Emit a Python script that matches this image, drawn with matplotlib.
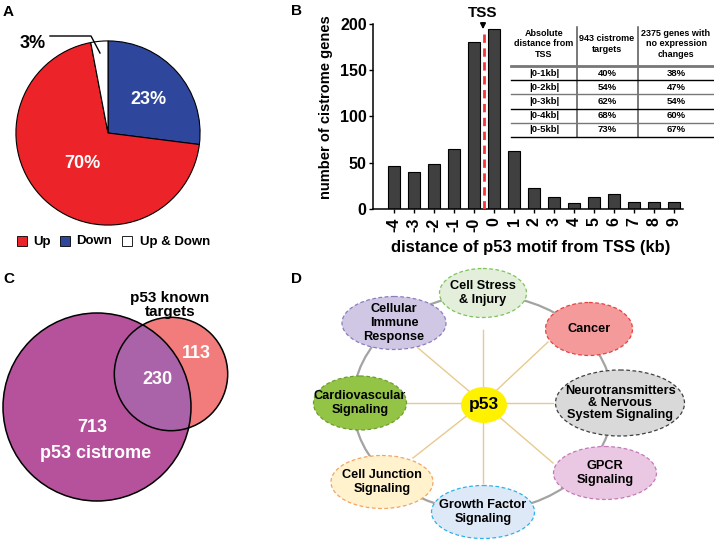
import matplotlib
matplotlib.use('Agg')
import matplotlib.pyplot as plt
from matplotlib.patches import Circle, Ellipse, Rectangle
import numpy as np

plt.rcParams['font.family'] = ['Liberation Sans', 'DejaVu Sans']
plt.rcParams['font.weight'] = 'bold'
plt.rcParams['axes.labelweight'] = 'bold'

# --- A: response direction of cistrome genes
pie_groups = ['Down', 'Up', 'Up & Down']
pie_sizes = [27, 70, 3]
pie_labels = ['23%', '70%', '3%']
pie_colors = ['#2E479C', '#EC2328', '#FFFFFF']

# --- B: distance of p53 motif from TSS
dist_labels = ['-4', '-3', '-2', '-1', '-0', '0', '1', '2', '3', '4', '5', '6', '7', '8', '9']
cistrome_counts = [46, 40, 48, 65, 180, 194, 63, 23, 13, 6, 13, 16, 8, 8, 8]
table_header = ['Absolute\ndistance from\nTSS', '943 cistrome\ntargets',
                '2375 genes with\nno expression\nchanges']
table_ranges = ['|0-1kb|', '|0-2kb|', '|0-3kb|', '|0-4kb|', '|0-5kb|']
table_cistrome = ['40%', '54%', '62%', '68%', '73%']
table_noexpr = ['38%', '47%', '54%', '60%', '67%']

# --- C: overlap with known targets
venn_only_cistrome = 713
venn_overlap = 230
venn_only_known = 113

# --- D: pathways (label, centre px, width, height, face, edge)
pathways = [
    ('Cell Stress\n& Injury', (483, 293), 87, 49, '#E3EFDA', '#7DC35B'),
    ('Cancer', (589, 329), 87, 53, '#F49A9B', '#E8413F'),
    ('Neurotransmitters\n& Nervous\nSystem Signaling', (620, 403), 129, 66, '#D9D9D9', '#404040'),
    ('GPCR\nSignaling', (605, 473), 103, 53, '#EAC7E2', '#C679B9'),
    ('Growth Factor\nSignaling', (483, 512), 103, 53, '#DDE9F6', '#2DB3E7'),
    ('Cell Junction\nSignaling', (382, 482), 102, 53, '#FFF2CD', '#F4A45F'),
    ('Cardiovascular\nSignaling', (360, 403), 93, 54, '#93C445', '#6E9E30'),
    ('Cellular\nImmune\nResponse', (394, 323), 104, 53, '#CFC7E4', '#8C7DC0'),
]
spoke_ends = [(483, 330), (548, 342), (553, 403), (553, 463),
              (483, 483), (413, 458), (407, 403), (418, 348)]

W, H = 714, 542
fig = plt.figure(figsize=(W / 100, H / 100), dpi=100)

# pie
axA = fig.add_axes([15 / W, 1 - 226 / H, 186 / W, 186 / H])
axA.pie(pie_sizes, colors=pie_colors, startangle=90, counterclock=False,
        wedgeprops=dict(edgecolor='black', linewidth=0.8))
axA.set_xlim(-1.01, 1.01)
axA.set_ylim(-1.01, 1.01)

# histogram
axB = fig.add_axes([373 / W, 1 - 209 / H, 310 / W, 185.5 / H])
x = np.arange(len(dist_labels))
axB.bar(x, cistrome_counts, width=0.63, color='#404040', edgecolor='black', linewidth=0.8)
axB.plot([4.5, 4.5], [0, 191], color='#F5333A', lw=2, ls=(0, (3, 2)), zorder=3)
axB.set_xlim(-1.05, 14.45)
axB.set_ylim(0, 200)
axB.set_yticks([0, 50, 100, 150, 200])
axB.set_xticks(x)
axB.set_xticklabels(dist_labels, rotation=90, fontsize=11.5)
axB.tick_params(axis='y', labelsize=11.5, length=3, width=1, pad=1.5)
axB.tick_params(axis='x', length=3, width=1, pad=3)
for lbl in axB.get_xticklabels() + axB.get_yticklabels():
    lbl.set_fontweight('bold')
for s in ['top', 'right']:
    axB.spines[s].set_visible(False)
for s in ['left', 'bottom']:
    axB.spines[s].set_linewidth(1.1)
axB.set_ylabel('number of cistrome genes', fontsize=10.5)
axB.yaxis.set_label_coords(-0.128, 0.55)
axB.set_xlabel('distance of p53 motif from TSS (kb)', fontsize=12)
axB.xaxis.set_label_coords(0.51, -0.165)

# overlay in pixel coordinates for annotations, venn and network
ov = fig.add_axes([0, 0, 1, 1])
ov.set_xlim(0, W)
ov.set_ylim(H, 0)
ov.axis('off')
ov.patch.set_visible(False)

for lab, px, py in [('A', 8, 12), ('B', 297, 11), ('C', 9, 279), ('D', 296, 279)]:
    ov.text(px, py, lab, fontsize=11, ha='center', va='center')

# A labels and legend
ov.text(148, 100, pie_labels[0], color='white', fontsize=13, ha='center', va='center')
ov.text(82, 163, pie_labels[1], color='white', fontsize=13, ha='center', va='center')
ov.text(33, 43, pie_labels[2], color='black', fontsize=13, ha='center', va='center')
ov.plot([50, 91, 100], [36, 36, 53], color='black', lw=1)
leg_x = [(17, 33), (60, 76), (122, 140)]
leg_order = [1, 0, 2]
for (sx, tx), i in zip(leg_x, leg_order):
    ov.add_patch(Rectangle((sx, 236), 10, 10, fc=pie_colors[i], ec='black', lw=0.6))
    ov.text(tx, 241.5, pie_groups[i], fontsize=9.5, ha='left', va='center')

# B annotations: TSS arrow and table
ov.text(483, 13, 'TSS', fontsize=11, ha='center', va='center')
ov.annotate('', xy=(483, 32), xytext=(483, 20),
            arrowprops=dict(arrowstyle='-|>', color='black', lw=1.2, mutation_scale=8))
col_x = [544, 607, 676]
for cx, head in zip(col_x, table_header):
    ov.text(cx, 44, head, fontsize=6.5, ha='center', va='center', linespacing=1.2)
for xv in [577, 638]:
    ov.plot([xv, xv], [27, 137], color='#555555', lw=1.1)
ov.plot([511, 713], [66, 66], color='#777777', lw=2)
row_h = 14.2
for k in range(len(table_ranges)):
    yc = 66 + row_h * (k + 0.5)
    ov.text(col_x[0], yc, table_ranges[k], fontsize=6.8, ha='center', va='center')
    ov.text(col_x[1], yc, table_cistrome[k], fontsize=6.8, ha='center', va='center')
    ov.text(col_x[2], yc, table_noexpr[k], fontsize=6.8, ha='center', va='center')
    yl = 66 + row_h * (k + 1)
    ov.plot([511, 713], [yl, yl], color='black' if k % 2 == 0 else '#777777', lw=1)

# C: venn
big_r = 94
small_r = big_r * np.sqrt((venn_overlap + venn_only_known) / (venn_only_cistrome + venn_overlap))
big = Circle((97, 407), big_r, fc='#B5529B', ec='none')
ov.add_patch(big)
ov.add_patch(Circle((171, 374), small_r, fc='#F27B7B', ec='none'))
inter = Circle((171, 374), small_r, fc='#AA63A8', ec='none')
ov.add_patch(inter)
inter.set_clip_path(big)
ov.add_patch(Circle((97, 407), big_r, fill=False, ec='black', lw=1.1))
ov.add_patch(Circle((171, 374), small_r, fill=False, ec='black', lw=1.1))
ov.text(157, 379, str(venn_overlap), color='white', fontsize=13, ha='center', va='center')
ov.text(196, 354, str(venn_only_known), color='white', fontsize=13, ha='center', va='center')
ov.text(92, 428, str(venn_only_cistrome), color='white', fontsize=13, ha='center', va='center')
ov.text(96, 454, 'p53 cistrome', color='white', fontsize=13, ha='center', va='center')
ov.text(170, 305, 'p53 known\ntargets', color='black', fontsize=11, ha='center', va='center',
        linespacing=0.95)

# D: network
ov.add_patch(Ellipse((483, 403), 260, 216, fill=False, ec='#A3A3A3', lw=1.6, zorder=1))
for ex, ey in spoke_ends:
    ov.plot([483, ex], [403, ey], color='#E8CA8E', lw=1, zorder=1)
for label, (cx, cy), w, h, fc, ec in pathways:
    ov.add_patch(Ellipse((cx, cy), w, h, fc=fc, ec=ec, lw=0.9, ls=(0, (3, 2)), zorder=2))
    lsp = 1.05 if label.startswith('Neuro') else 1.25
    ov.text(cx, cy, label, fontsize=9.2, ha='center', va='center', linespacing=lsp, zorder=3)
ov.add_patch(Ellipse((484, 405), 46, 36, fc='#FFF200', ec='none', zorder=2))
ov.text(484, 405, 'p53', fontsize=12.5, ha='center', va='center', zorder=3)

fig.savefig('out.png', dpi=100)
